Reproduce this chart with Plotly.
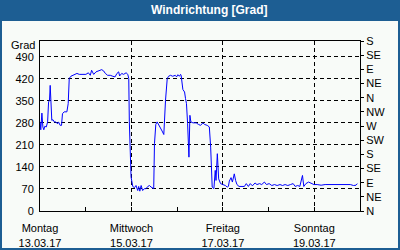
import pandas as pd
import plotly.graph_objects as go

# ---- data ----
start = "2017-03-13 00:00"
hours = [0.1, 0.4, 1.0, 1.5, 2.0, 2.5, 3.3, 4.0, 4.5, 5.0, 5.35, 5.7, 6.2, 6.8, 7.5, 8.3, 9.2, 9.7,
         10.6, 11.3, 11.8, 12.7, 14.1, 14.8, 15.35, 16.2, 17.1, 18.0, 19.4, 20.6, 22.4, 24.1, 25.4,
         26.4, 27.1, 28.2, 29.4, 31.1, 32.4, 33.4, 34.3, 35.5, 36.9, 38.2, 39.4, 40.4, 41.3, 41.8,
         42.9, 43.9, 45.2, 46.1, 46.6, 46.9, 47.5, 47.8, 48.7, 49.6, 50.4, 51.3, 51.8, 52.4, 53.1,
         53.9, 54.8, 55.7, 56.6, 57.5, 58.3, 59.2, 59.7, 60.1, 60.8, 61.5, 62.7, 64.1, 65.0, 65.3,
         65.9, 66.8, 67.5, 68.5, 69.7, 71.0, 71.7, 72.4, 73.2, 73.8, 74.1, 75.0, 75.9, 76.4, 76.9,
         77.5, 77.8, 78.2, 78.7, 79.2, 80.3, 82.0, 83.2, 84.3, 85.5, 86.4, 87.8, 88.9, 89.6, 89.9,
         90.4, 91.3, 92.0, 92.4, 93.1, 93.8, 94.8, 96.0, 97.3, 98.3, 98.9, 99.4, 100.3, 101.0,
         102.0, 102.7, 103.4, 104.5, 105.9, 107.3, 108.3, 109.4, 110.4, 111.5, 112.9, 113.9,
         115.3, 116.4, 117.8, 118.9, 120.3, 121.7, 123.1, 124.5, 126.0, 127.3, 128.7, 130.1,
         131.5, 132.9, 134.0, 135.3, 136.4, 137.1, 137.8, 138.5, 139.6, 141.0, 142.4, 143.8,
         145.5, 147.6, 149.7, 151.8, 154.1, 155.3, 158.5, 160.6, 162.9, 164.6, 165.9, 166.6]
direction = [283, 258, 311, 267, 258, 269, 267, 283, 346, 352, 399, 330, 288, 290, 283, 283, 277, 283,
             272, 272, 309, 315, 315, 341, 421, 428, 431, 434, 437, 434, 434, 434, 439,
             431, 447, 434, 442, 447, 449, 445, 437, 431, 431, 428, 426, 437, 442, 429,
             437, 434, 439, 434, 421, 283, 171, 108, 78, 74, 81, 65, 78, 63, 81,
             65, 71, 71, 78, 81, 76, 71, 71, 214, 275, 283, 267, 254, 243, 283,
             352, 421, 428, 431, 428, 431, 426, 433, 428, 434, 431, 386, 378, 357, 341,
             277, 235, 171, 304, 283, 280, 280, 275, 272, 280, 275, 272, 267, 203, 145,
             76, 71, 129, 97, 182, 102, 87, 84, 81, 76, 78, 95, 106, 92,
             118, 97, 84, 78, 78, 78, 87, 78, 87, 80, 89, 84,
             87, 84, 92, 84, 87, 81, 84, 81, 84, 81, 84, 81,
             84, 87, 78, 81, 78, 95, 113, 78, 87, 92, 89, 84,
             84, 82, 84, 84, 82, 84, 84, 82, 84, 81, 82, 87]

x_tickvals = ["2017-03-13", "2017-03-15", "2017-03-17", "2017-03-19"]
x_ticktext = ["Montag<br>13.03.17", "Mittwoch<br>15.03.17", "Freitag<br>17.03.17", "Sonntag<br>19.03.17"]
day_ticks = ["2017-03-13", "2017-03-14", "2017-03-15", "2017-03-16", "2017-03-17",
             "2017-03-18", "2017-03-19", "2017-03-20"]
y_tickvals = [0, 70, 140, 210, 280, 350, 420, 490]
compass_vals = [0, 45, 90, 135, 180, 225, 270, 315, 360, 405, 450, 495, 540]
compass_text = ["N", "NE", "E", "SE", "S", "SW", "W", "NW", "N", "NE", "E", "SE", "S"]

times = pd.Timestamp(start) + pd.to_timedelta(hours, unit="h")

FONT = "Liberation Sans, Arial, sans-serif"
BLUE_FRAME = "#1d5e93"
INNER = "#f8fbf8"

fig = go.Figure()
fig.add_trace(go.Scatter(x=times, y=direction, mode="lines",
                         line=dict(color="#0000ff", width=1), showlegend=False, hoverinfo="skip"))
fig.add_trace(go.Scatter(x=times, y=direction, mode="lines", yaxis="y2",
                         line=dict(color="rgba(0,0,0,0)", width=0), showlegend=False, hoverinfo="skip"))

W, H = 400, 250
L, R, T, B = 40, 40, 41, 39
pw, ph = W - L - R, H - T - B

def px(xp):
    return (xp - L) / pw

def py(yp):
    return (H - B - yp) / ph

fig.update_layout(
    width=W, height=H,
    margin=dict(l=L, r=R, t=T, b=B, pad=0, autoexpand=False),
    paper_bgcolor=BLUE_FRAME,
    plot_bgcolor="rgba(0,0,0,0)",
    font=dict(family=FONT, size=11, color="black"),
    shapes=[dict(type="rect", xref="paper", yref="paper",
                 x0=px(2), x1=px(398), y0=py(248), y1=py(21),
                 fillcolor=INNER, line=dict(width=0), layer="below")],
    annotations=[
        dict(text="<b>Windrichtung [Grad]</b>", xref="paper", yref="paper",
             x=px(209), y=py(10.5), xanchor="center", yanchor="middle", showarrow=False,
             font=dict(family=FONT, size=12, color="white")),
        dict(text="Grad", xref="paper", yref="paper",
             x=px(37), y=py(44.5), xanchor="right", yanchor="middle", showarrow=False,
             font=dict(family=FONT, size=11, color="black")),
    ],
    xaxis=dict(
        type="date", range=["2017-03-13 00:00", "2017-03-20 00:00"],
        tickmode="array", tickvals=x_tickvals, ticktext=x_ticktext,
        ticks="inside", ticklen=4, tickcolor="black", ticklabelstandoff=7,
        automargin=False,
        showgrid=True, gridcolor="black", gridwidth=1, griddash="4px,3px",
        showline=True, linecolor="black", linewidth=1, mirror=True,
        zeroline=False,
        minor=dict(tickmode="array", tickvals=day_ticks, ticks="inside", ticklen=4,
                   tickcolor="black", showgrid=False),
        tickfont=dict(family=FONT, size=11, color="black"),
    ),
    yaxis=dict(
        range=[0, 540], tickmode="array", tickvals=y_tickvals,
        automargin=False,
        showgrid=True, gridcolor="black", gridwidth=1, griddash="4px,3px",
        showline=True, linecolor="black", linewidth=1, mirror=True,
        zeroline=False, ticks="", ticklabelstandoff=3,
        tickfont=dict(family=FONT, size=11, color="black"),
    ),
    yaxis2=dict(
        range=[0, 540], overlaying="y", side="right",
        tickmode="array", tickvals=compass_vals, ticktext=compass_text,
        ticks="outside", ticklen=3, tickcolor="black",
        automargin=False,
        showgrid=False, zeroline=False,
        showline=True, linecolor="black", linewidth=1,
        tickfont=dict(family=FONT, size=11, color="black"),
    ),
)

fig.write_html("out.html")
